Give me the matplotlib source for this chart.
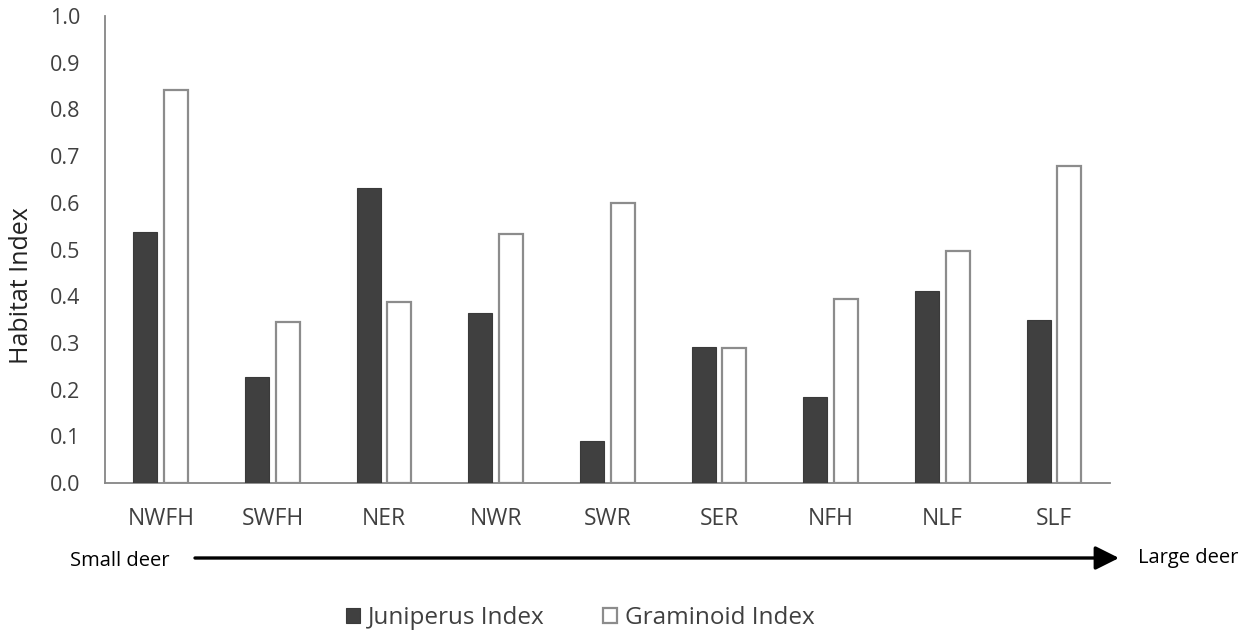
import matplotlib
matplotlib.use("Agg")
import matplotlib.pyplot as plt
import numpy as np

categories = ["NWFH", "SWFH", "NER", "NWR", "SWR", "SER", "NFH", "NLF", "SLF"]
juniperus = [0.537, 0.227, 0.632, 0.364, 0.090, 0.291, 0.184, 0.411, 0.348]
graminoid = [0.842, 0.345, 0.388, 0.533, 0.600, 0.289, 0.393, 0.497, 0.678]
yticks = [0.0, 0.1, 0.2, 0.3, 0.4, 0.5, 0.6, 0.7, 0.8, 0.9, 1.0]

plt.rcParams['font.family'] = ['Open Sans', 'DejaVu Sans']

fig = plt.figure(figsize=(12.53, 6.31), dpi=100)
ax = fig.add_axes([105/1253, 1 - 483/631, (1110-105)/1253, (483-16)/631])

x = np.arange(len(categories))
w = 0.215
ax.bar(x - 0.14, juniperus, width=w, color="#404040", edgecolor="#3a3a3a", linewidth=0.8,
       label="Juniperus Index", zorder=3)
ax.bar(x + 0.135, graminoid, width=w, color="white", edgecolor="#8c8c8c", linewidth=1.6,
       label="Graminoid Index", zorder=3)

ax.set_xlim(-0.5, len(categories) - 0.5)
ax.set_ylim(0, 1.0)
ax.set_yticks(yticks)
ax.set_yticklabels([f"{v:.1f}" for v in yticks])
ax.set_xticks(x)
ax.set_xticklabels(categories)
ax.tick_params(axis='both', length=0, colors="#404040")
ax.tick_params(axis='y', pad=18, labelsize=15.5)
ax.tick_params(axis='x', pad=17, labelsize=16.5)
for s in ["top", "right"]:
    ax.spines[s].set_visible(False)
for s in ["left", "bottom"]:
    ax.spines[s].set_color("#868686")
    ax.spines[s].set_linewidth(1.3)

fig.text(22/1253, 1 - 286/631, "Habitat Index", rotation=90, ha="center", va="center",
         fontsize=18, color="#222222")

# size gradient arrow
ay = 1 - 558/631
fig.text(70/1253, 1 - 561/631, "Small deer", ha="left", va="center", fontsize=14.5, color="black")
fig.text(1138/1253, 1 - 558/631, "Large deer", ha="left", va="center", fontsize=14.5, color="black")
fig.add_artist(matplotlib.patches.FancyArrowPatch((195/1253, ay), (1119/1253, ay),
               transform=fig.transFigure, arrowstyle="-|>,head_length=9,head_width=4.5",
               mutation_scale=1.6, color="black", linewidth=2.4, shrinkA=0, shrinkB=0))

leg = fig.legend(loc="center", bbox_to_anchor=(580/1253, 1 - 618/631), ncol=2,
                 frameon=False, fontsize=17.5, handlelength=0.6, handleheight=0.6,
                 handletextpad=0.3, columnspacing=2.4)
for t in leg.get_texts():
    t.set_color("#404040")

fig.savefig("out.png", dpi=100)
